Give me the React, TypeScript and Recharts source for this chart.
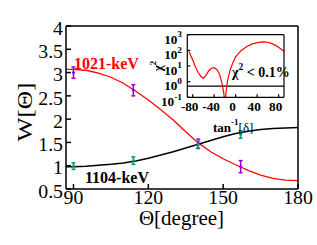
import React from "react"
import {
  ComposedChart,
  LineChart,
  Line,
  Scatter,
  ErrorBar,
  XAxis,
  YAxis,
  ReferenceLine,
  CartesianGrid,
} from "recharts"

// main panel: angular distribution W(theta)
const angleDeg = [87, 90, 95, 100, 105, 110, 115, 120, 125, 130, 135, 140, 145, 150, 155, 160, 165, 170, 175, 180]
const fit1021 = [3.07, 3.07, 3.05, 2.99, 2.9, 2.77, 2.6, 2.41, 2.2, 1.98, 1.73, 1.49, 1.3, 1.15, 1.02, 0.9, 0.8, 0.73, 0.69, 0.68]
const fit1104 = [0.98, 0.98, 0.99, 1.01, 1.03, 1.06, 1.1, 1.16, 1.23, 1.3, 1.38, 1.46, 1.54, 1.62, 1.69, 1.74, 1.78, 1.8, 1.81, 1.82]

const measDeg = [90, 114, 140, 157]
const meas1021 = [3.0, 2.62, 1.47, 0.98]
const err1021 = [0.12, 0.12, 0.1, 0.13]
const meas1104 = [0.99, 1.11, 1.45, 1.67]
const err1104 = [0.07, 0.08, 0.07, 0.08]

const xTicks = [90, 120, 150, 180]
const yTicks = [0.5, 1, 1.5, 2, 2.5, 3, 3.5, 4]

// inset: chi^2 vs arctan(delta)
const deltaDeg = [-87, -80, -75, -70, -65, -60, -55, -50, -45, -40, -35, -30, -25, -22, -20, -18, -15, -10, -5, 0, 10, 20, 30, 40, 50, 60, 70, 80, 90]
const chi2 = [85, 25, 9, 4, 2.2, 1.6, 2.6, 5, 7.2, 7.8, 6, 3, 0.7, 0.18, 0.03, 0.2, 1.2, 6, 17, 38, 95, 170, 250, 310, 350, 330, 250, 160, 88]
const chi2Limit = 0.52
const insetXTicks = [-80, -40, 0, 40, 80]
const insetYTicks = [0.1, 1, 10, 100, 1000]

const RED = "#ff0000"
const PURPLE = "#9400d3"
const TEAL = "#009e73"
const SERIF = "'Liberation Serif', 'Times New Roman', serif"

const curve1021 = angleDeg.map((d, i) => ({ deg: d, w: fit1021[i] }))
const curve1104 = angleDeg.map((d, i) => ({ deg: d, w: fit1104[i] }))
const pts1021 = measDeg.map((d, i) => ({ deg: d, w: meas1021[i], err: err1021[i] }))
const pts1104 = measDeg.map((d, i) => ({ deg: d, w: meas1104[i], err: err1104[i] }))
const chiData = deltaDeg.map((d, i) => ({ t: d, chi: chi2[i] }))

const MainXTick = ({ x, y, payload }: any) => (
  <text
    transform={`translate(${x},${y}) scale(1.1,1)`}
    textAnchor="middle"
    dominantBaseline="central"
    fontFamily={SERIF}
    fontSize={18}
    fill="#000"
  >
    {payload.value}
  </text>
)

const MainYTick = ({ x, y, payload }: any) => (
  <text
    transform={`translate(${x},${y + 2.5}) scale(1.1,1)`}
    textAnchor="end"
    dominantBaseline="central"
    fontFamily={SERIF}
    fontSize={18}
    fill="#000"
  >
    {payload.value}
  </text>
)

const InsetXTick = ({ x, y, payload }: any) => (
  <text
    transform={`translate(${x - 3},${y}) scale(1.1,1)`}
    textAnchor="middle"
    dominantBaseline="central"
    fontFamily={SERIF}
    fontWeight="bold"
    fontSize={12}
    fill="#000"
  >
    {payload.value}
  </text>
)

const InsetYTick = ({ x, y, payload }: any) => {
  const exp = Math.round(Math.log10(payload.value))
  return (
    <text
      transform={`translate(${x},${y + 5}) scale(1.1,1)`}
      textAnchor="end"
      dominantBaseline="central"
      fontFamily={SERIF}
      fontWeight="bold"
      fontSize={12}
      fill="#000"
    >
      10
      <tspan dy={-5.5} fontSize={8.5}>
        {exp < 0 ? "-" + Math.abs(exp) : exp}
      </tspan>
    </text>
  )
}

const cross = (color: string) => (props: any) => {
  const { cx, cy } = props
  return (
    <g stroke={color} strokeWidth={1.5}>
      <line x1={cx - 1.5} x2={cx + 1.5} y1={cy} y2={cy} />
      <line x1={cx} x2={cx} y1={cy - 1.5} y2={cy + 1.5} />
    </g>
  )
}

export default function App() {
  return (
    <div style={{ position: "absolute", left: 0, top: 0, width: 317, height: 245, background: "#fff" }}>
      <ComposedChart width={317} height={245} margin={{ top: 25, right: 18, bottom: 0, left: 0 }}>
        <XAxis
          dataKey="deg"
          type="number"
          domain={[87, 180]}
          allowDataOverflow
          ticks={xTicks}
          interval={0}
          height={56}
          tickSize={-5}
          tickMargin={14}
          tick={<MainXTick />}
          stroke="#000"
          strokeWidth={1.5}
        />
        <XAxis
          xAxisId="top"
          orientation="top"
          type="number"
          domain={[87, 180]}
          ticks={xTicks}
          interval={0}
          height={1}
          tickSize={-5}
          tick={false}
          stroke="#000"
          strokeWidth={1.5}
        />
        <YAxis
          type="number"
          domain={[0.5, 4]}
          allowDataOverflow
          ticks={yTicks}
          interval={0}
          width={66}
          tickSize={-5}
          tickMargin={8}
          tick={<MainYTick />}
          stroke="#000"
          strokeWidth={1.5}
        />
        <YAxis
          yAxisId="right"
          orientation="right"
          type="number"
          domain={[0.5, 4]}
          ticks={yTicks}
          interval={0}
          width={1}
          tickSize={-5}
          tick={false}
          stroke="#000"
          strokeWidth={1.5}
        />
        <Line data={curve1021} dataKey="w" stroke={RED} strokeWidth={1.3} dot={false} isAnimationActive={false} />
        <Line data={curve1104} dataKey="w" stroke="#000" strokeWidth={1.5} dot={false} isAnimationActive={false} />
        <Scatter data={pts1021} dataKey="w" shape={cross(PURPLE)} isAnimationActive={false}>
          <ErrorBar dataKey="err" direction="y" width={2} stroke={PURPLE} strokeWidth={1.5} />
        </Scatter>
        <Scatter data={pts1104} dataKey="w" shape={cross(TEAL)} isAnimationActive={false}>
          <ErrorBar dataKey="err" direction="y" width={2} stroke={TEAL} strokeWidth={1.5} />
        </Scatter>
      </ComposedChart>

      <div style={{ position: "absolute", left: 150, top: 20 }}>
        <LineChart width={145} height={120} data={chiData} margin={{ top: 13.7, right: 10, bottom: 0, left: 0 }}>
          <CartesianGrid fill="#fff" horizontal={false} vertical={false} />
          <XAxis
            dataKey="t"
            type="number"
            domain={[-90, 90]}
            ticks={insetXTicks}
            interval={0}
            height={42.7}
            tickSize={-3}
            tickMargin={12.7}
            tick={<InsetXTick />}
            stroke="#000"
            strokeWidth={1.2}
          />
          <XAxis
            xAxisId="top"
            orientation="top"
            dataKey="t"
            type="number"
            domain={[-90, 90]}
            ticks={insetXTicks}
            interval={0}
            height={1}
            tickSize={-3}
            tick={false}
            stroke="#000"
            strokeWidth={1.2}
          />
          <YAxis
            scale="log"
            domain={[0.1, 1000]}
            allowDataOverflow
            ticks={insetYTicks}
            interval={0}
            width={37.3}
            tickSize={-3}
            tickMargin={8.3}
            tick={<InsetYTick />}
            stroke="#000"
            strokeWidth={1.2}
          />
          <YAxis
            yAxisId="right"
            orientation="right"
            scale="log"
            domain={[0.1, 1000]}
            ticks={insetYTicks}
            interval={0}
            width={1}
            tickSize={-3}
            tick={false}
            stroke="#000"
            strokeWidth={1.2}
          />
          <ReferenceLine y={chi2Limit} stroke="#000" strokeWidth={1.2} />
          <Line dataKey="chi" stroke={RED} strokeWidth={1.2} dot={false} isAnimationActive={false} />
        </LineChart>
      </div>

      <svg width={317} height={245} style={{ position: "absolute", left: 0, top: 0, pointerEvents: "none" }}>
        <text
          transform="translate(25,112) rotate(-90) scale(1.15,1)"
          textAnchor="middle"
          dominantBaseline="central"
          fontFamily={SERIF}
          fontSize={22}
        >
          W[Θ]
        </text>
        <text x={181.5} y={218} textAnchor="middle" dominantBaseline="central" fontFamily={SERIF} fontSize={21}>
          Θ[degree]
        </text>
        <text x={74} y={63} dominantBaseline="central" fontFamily={SERIF} fontWeight="bold" fontSize={16} fill={RED}>
          1021-keV
        </text>
        <text x={85} y={177} dominantBaseline="central" fontFamily={SERIF} fontWeight="bold" fontSize={16} fill="#000">
          1104-keV
        </text>
        <text x={232} y={72} dominantBaseline="central" fontFamily={SERIF} fontWeight="bold" fontSize={14}>
          χ<tspan dy={-5.5} fontSize={9.5}>2</tspan>
          <tspan dy={5.5}> &lt; 0.1%</tspan>
        </text>
        <text x={213} y={127} dominantBaseline="central" fontFamily={SERIF} fontSize={13}>
          <tspan fontWeight="bold">tan</tspan>
          <tspan dy={-5} fontSize={9} fontWeight="bold">-1</tspan>
          <tspan dy={5}>[δ]</tspan>
        </text>
        <text
          transform="translate(157,66) rotate(-90)"
          textAnchor="middle"
          dominantBaseline="central"
          fontFamily={SERIF}
          fontWeight="bold"
          fontSize={13}
        >
          χ<tspan dy={-4.5} fontSize={9}>2</tspan>
        </text>
      </svg>
    </div>
  )
}
